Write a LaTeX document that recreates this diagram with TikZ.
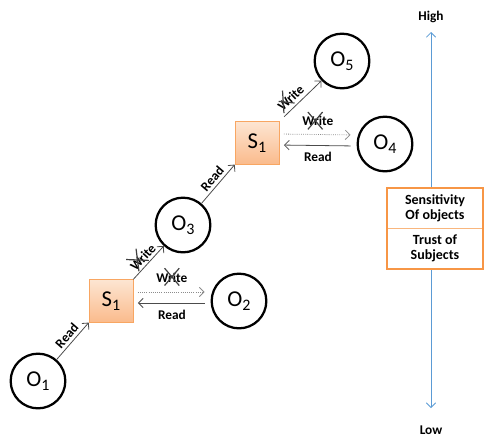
\documentclass[tikz,border=0pt]{standalone}
\usepackage{fontspec}
\setmainfont{Carlito}
\usepackage{xcolor}
\usepackage{tikz}
\usetikzlibrary{arrows.meta,calc,positioning,shapes.misc}

\definecolor{boxorange}{RGB}{247,150,70}
\definecolor{boxtop}{RGB}{253,229,210}
\definecolor{boxbot}{RGB}{250,187,140}
\definecolor{axisblue}{RGB}{91,155,213}

\newcommand{\sub}[2]{#1\raisebox{-0.35ex}{\fontsize{12}{12}\selectfont #2}}

\begin{document}
\begin{tikzpicture}[x=0.75pt,y=-0.75pt]

\tikzset{obj/.style={circle, draw=black, line width=1.7pt, minimum size=41pt, inner sep=0pt, font=\fontsize{17}{17}\selectfont},
subj/.style={rectangle, draw=boxorange!85, top color=boxtop, bottom color=boxbot, minimum width=33pt, minimum height=32pt, inner sep=0pt, font=\fontsize{17}{17}\selectfont},
lbl/.style={font=\fontsize{10}{11}\selectfont\bfseries, inner sep=1pt},
xmark/.style={cross out, draw=black!75, line width=0.9pt, minimum width=11pt, minimum height=13pt, inner sep=0pt, outer sep=0pt}}

\tikzstyle{acc} = [draw=black!70, semithick, -{Straight Barb[length=3.5pt,width=7pt]}]
\tikzstyle{wacc} = [acc, draw=black!45, densely dotted]

\useasboundingbox (0,0) rectangle (484,436);

% objects and subjects
\foreach \n/\x/\y in {1/38/381, 2/239/301, 3/183/225, 4/385/144, 5/342/61}
  \node[obj] (O\n) at (\x,\y) {\sub{O}{\n}};

\node[subj] (S1a) at (111,301) {\sub{S}{1}};
\node[subj] (S1b) at (257,143) {\sub{S}{1}};

% diagonal flows
\draw[acc] (O1) -- node[lbl, midway, above=1pt, sloped] {Read} (S1a.south west);
\draw[acc] (S1a.north east) -- node[lbl, midway, above=1pt, sloped] {Write}
  node[xmark, pos=0.38, above=1pt, sloped] {} (O3);
\draw[acc] (O3) -- node[lbl, midway, above=1pt, sloped] {Read} (S1b.south west);
\draw[acc, shorten <=5pt] (S1b.north east) -- node[lbl, pos=0.42, above=2pt, sloped] {Write}
  node[xmark, pos=0.28, above=2pt, sloped] {} (O5);

% horizontal flows
\draw[wacc, shorten <=3.5pt, shorten >=4.5pt] ([yshift=6.75pt]S1a.east) -- node[lbl, above=5.5pt] (w1) {Write} ([yshift=6.75pt]O2.west);
\node[xmark] at ([yshift=1pt]w1.center) {};
\draw[acc, shorten <=4.5pt, shorten >=3.5pt] ([yshift=-1.5pt]O2.west) -- node[lbl, below=4pt] {Read} ([yshift=-1.5pt]S1a.east);

\draw[wacc, shorten <=3.5pt, shorten >=4.5pt] ([yshift=6.75pt]S1b.east) -- node[lbl, above=5.5pt] (w2) {Write} ([yshift=6.75pt]O4.west);
\node[xmark] at ([xshift=-2pt]w2.center) {};
\draw[acc, shorten <=4.5pt, shorten >=3.5pt] ([yshift=-1.5pt]O4.west) -- node[lbl, below=4pt] {Read} ([yshift=-1.5pt]S1b.east);

%the scale on the right
\node[lbl] (high) at (431,17) {High};
\node[lbl] (low) at (431,430) {Low};
\coordinate (top) at (431,32);
\coordinate (bot) at (431,408);
\draw[axisblue, semithick, {Straight Barb[length=3.5pt,width=7pt]}-{Straight Barb[length=3.5pt,width=7pt]}] (top) -- (bot);

\node[fill=white, minimum width=72pt, minimum height=30pt, inner sep=0pt, align=center, font=\fontsize{10.5}{11.5}\selectfont\bfseries] (sens) at (435,208) {Sensitivity\\Of objects};
\node[fill=white, minimum width=72pt, minimum height=30pt, inner sep=0pt, align=center, font=\fontsize{10.5}{11.5}\selectfont\bfseries, below=0pt of sens] (trust) {Trust of\\Subjects};
\draw[boxorange!70, thin] (sens.south west) -- (sens.south east);
\draw[boxorange, line width=1.5pt] (sens.north west) rectangle (trust.south east);

\end{tikzpicture}
\end{document}
